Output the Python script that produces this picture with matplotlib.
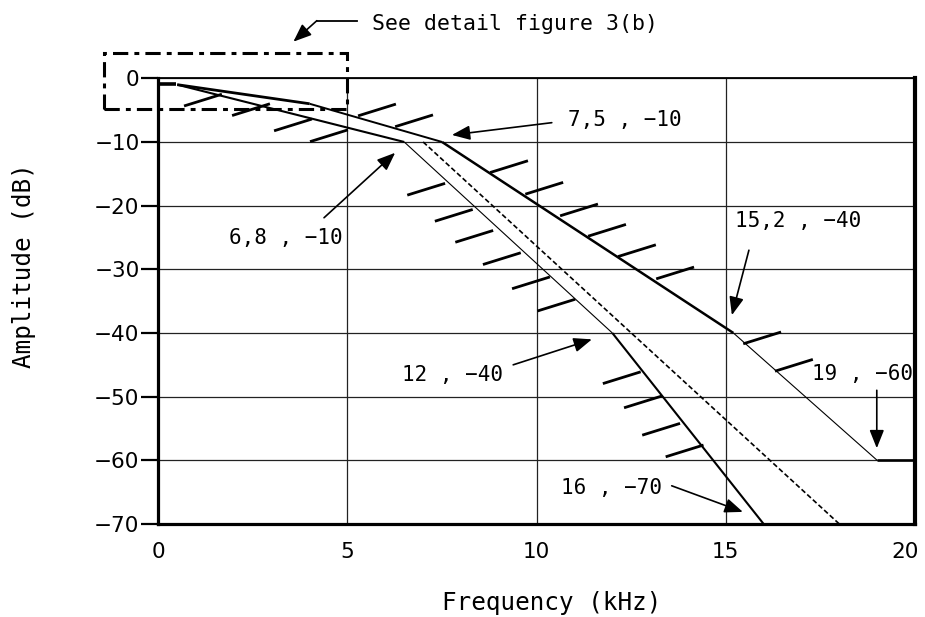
import numpy as np
import matplotlib
matplotlib.use("Agg")
import matplotlib.pyplot as plt
import matplotlib.transforms as mtransforms
from matplotlib.patches import Rectangle

# ---------------- data (kHz, dB) ----------------
x_ticks = [0, 5, 10, 15, 20]
y_ticks = [0, -10, -20, -30, -40, -50, -60, -70]

upper_x = [0.5, 4.0, 7.5, 15.2, 19.0, 20.0]
upper_y = [-1.0, -4.0, -10.0, -40.0, -60.0, -60.0]
upper_lw = [2.0, 1.4, 1.8, 0.8, 1.9]

lower_x = [0.5, 6.5, 12.0, 16.0]
lower_y = [-1.0, -10.0, -40.0, -70.0]
lower_lw = [1.5, 0.8, 1.5]

resp_x = [7.0, 18.0]
resp_y = [-10.0, -70.0]

pass_x = [0.0, 0.48]
pass_y = [-0.9, -0.9]

# hatch anchor points (upper mask: hatch starts here, lower mask: hatch ends here)
hatch_up_x = [5.28, 6.26, 8.77, 9.70, 10.62, 11.36, 12.15, 13.16, 15.46, 16.30]
hatch_up_y = [-5.9, -7.6, -14.8, -18.2, -21.6, -24.8, -28.0, -31.5, -41.7, -46.0]
hatch_lo_x = [1.68, 2.95, 4.06, 5.01, 7.58, 8.31, 8.85, 9.58, 10.35, 11.02, 12.75, 13.31, 13.79, 14.41]
hatch_lo_y = [-2.5, -4.0, -6.4, -8.1, -16.5, -20.6, -23.9, -27.4, -31.2, -34.7, -46.1, -49.9, -54.2, -57.6]
hatch_dx, hatch_dy = 1.0, 1.85

# detail box (kHz, dB)
box_x = [-1.43, 5.0]
box_y = [-4.87, 3.93]

# annotations: text, text pos, arrow tail, arrow tip
ann_text = ["7,5 , \u221210", "6,8 , \u221210", "15,2 , \u221240", "19 , \u221260",
            "12 , \u221240", "16 , \u221270"]
ann_text_xy = [(10.83, -6.55), (1.87, -25.1), (15.24, -22.4), (17.27, -46.4),
               (6.43, -46.6), (10.65, -64.4)]
ann_tail = [(10.40, -6.97), (4.38, -21.9), (15.61, -27.0), (18.99, -49.0),
            (9.38, -45.0), (13.57, -64.0)]
ann_tip = [(7.76, -8.9), (6.26, -11.7), (15.16, -37.2), (18.99, -58.1),
           (11.46, -41.0), (15.45, -68.1)]

see_text = "See detail figure 3(b)"
see_text_xy = (5.64, 8.5)
see_line_x = [5.24, 4.19]
see_line_y = [9.05, 9.05]
see_tip = (3.57, 5.75)

# ---------------- figure ----------------
fig = plt.figure(figsize=(9.25, 6.17), dpi=100)
ax = fig.add_axes([0.17114, 0.15073, 0.81805, 0.72237])
ax.set_xlim(0, 20)
ax.set_ylim(-70, 0)

ax.set_xticks(x_ticks)
ax.set_yticks(y_ticks)
ax.tick_params(axis='x', length=0, pad=13, labelsize=15.5)
ax.tick_params(axis='y', direction='out', length=12, width=1.6, pad=1.5, labelsize=15.5)
for lab in ax.get_xticklabels() + ax.get_yticklabels():
    lab.set_fontfamily('DejaVu Sans')
# keep the last x tick label inside the canvas
last = ax.get_xticklabels()[-1]
last.set_transform(last.get_transform() +
                   mtransforms.ScaledTranslation(-10 / 100, 0, fig.dpi_scale_trans))

ax.grid(True, color='#222222', linewidth=0.9)
ax.set_axisbelow(True)

for side, lw in [('left', 2.3), ('bottom', 2.3), ('right', 3.0), ('top', 1.3)]:
    ax.spines[side].set_linewidth(lw)
    ax.spines[side].set_color('black')

# mask lines
for i in range(len(upper_x) - 1):
    ax.plot(upper_x[i:i + 2], upper_y[i:i + 2], color='black', lw=upper_lw[i],
            solid_capstyle='butt', zorder=3)
for i in range(len(lower_x) - 1):
    ax.plot(lower_x[i:i + 2], lower_y[i:i + 2], color='black', lw=lower_lw[i],
            solid_capstyle='butt', zorder=3)
ax.plot(resp_x, resp_y, color='black', lw=1.2, linestyle=(0, (3, 1.6)), zorder=3)
ax.plot(pass_x, pass_y, color='black', lw=2.6, solid_capstyle='butt', zorder=3, clip_on=False)

# hatches
for hx, hy in zip(hatch_up_x, hatch_up_y):
    ax.plot([hx, hx + hatch_dx], [hy, hy + hatch_dy], color='black', lw=2.0,
            solid_capstyle='butt', zorder=3)
for hx, hy in zip(hatch_lo_x, hatch_lo_y):
    ax.plot([hx - hatch_dx, hx], [hy - hatch_dy, hy], color='black', lw=2.0,
            solid_capstyle='butt', zorder=3)

# detail box
rect = Rectangle((box_x[0], box_y[0]), box_x[1] - box_x[0], box_y[1] - box_y[0],
                 fill=False, edgecolor='black', lw=2.2, linestyle=(0, (5, 2, 1.6, 2)),
                 clip_on=False, zorder=4)
ax.add_patch(rect)

mono = 'DejaVu Sans Mono'
arrow_kw = dict(arrowstyle='-|>,head_length=0.55,head_width=0.22', color='black',
                lw=1.2, shrinkA=0, shrinkB=0, mutation_scale=20)

for t, txy, tail, tip in zip(ann_text, ann_text_xy, ann_tail, ann_tip):
    ax.text(txy[0], txy[1], t, fontfamily=mono, fontsize=15, ha='left', va='center',
            zorder=5)
    ax.annotate('', xy=tip, xytext=tail, arrowprops=arrow_kw, zorder=5)

# see detail
ax.text(see_text_xy[0], see_text_xy[1], see_text, fontfamily=mono, fontsize=15.5,
        ha='left', va='center', clip_on=False)
ax.plot(see_line_x, see_line_y, color='black', lw=1.3, clip_on=False)
ax.annotate('', xy=see_tip, xytext=(see_line_x[1], see_line_y[1]),
            arrowprops=arrow_kw, annotation_clip=False)

fig.text(552 / 925, 1 - 603 / 617, "Frequency (kHz)", fontfamily=mono, fontsize=17.5,
         ha='center', va='center')
fig.text(24 / 925, 1 - 266 / 617, "Amplitude (dB)", fontfamily=mono, fontsize=17.5,
         ha='center', va='center', rotation=90)

fig.savefig("out.png", dpi=100)
